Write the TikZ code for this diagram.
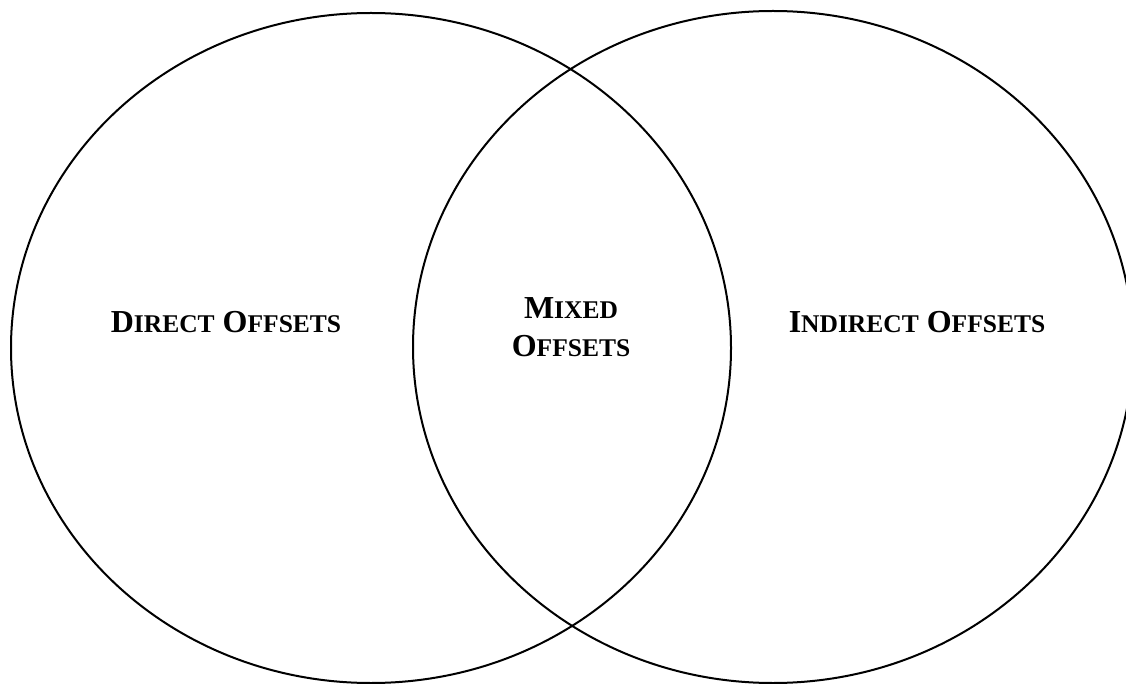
\documentclass[tikz,border=0pt]{standalone}
\usepackage{fontspec}
\setmainfont{Liberation Serif}
\newcommand{\capl}[1]{{\fontsize{32}{38}\selectfont #1}}
\newcommand{\smcl}[1]{{\fontsize{25.5}{38}\selectfont #1}}

\begin{document}
\begin{tikzpicture}[x=1pt, y=-1pt, line width=2pt,
    setlabel/.style={font=\fontsize{32}{38}\selectfont\bfseries, inner sep=0pt, align=center}]
    \useasboundingbox (0,0) rectangle (1126,684);

    % The two sets
    \draw (371,348) ellipse (360 and 335);
    \draw (773,347) ellipse (360 and 336);

    % Labels
    \node[setlabel, anchor=base] (direct) at (226,332) {\capl{D}\smcl{IRECT} \capl{O}\smcl{FFSETS}};
    \node[setlabel] (mixed) at (571,327) {\capl{M}\smcl{IXED}\\\capl{O}\smcl{FFSETS}};
    \node[setlabel, anchor=base] (indirect) at (917,332) {\capl{I}\smcl{NDIRECT} \capl{O}\smcl{FFSETS}};
\end{tikzpicture}
\end{document}
